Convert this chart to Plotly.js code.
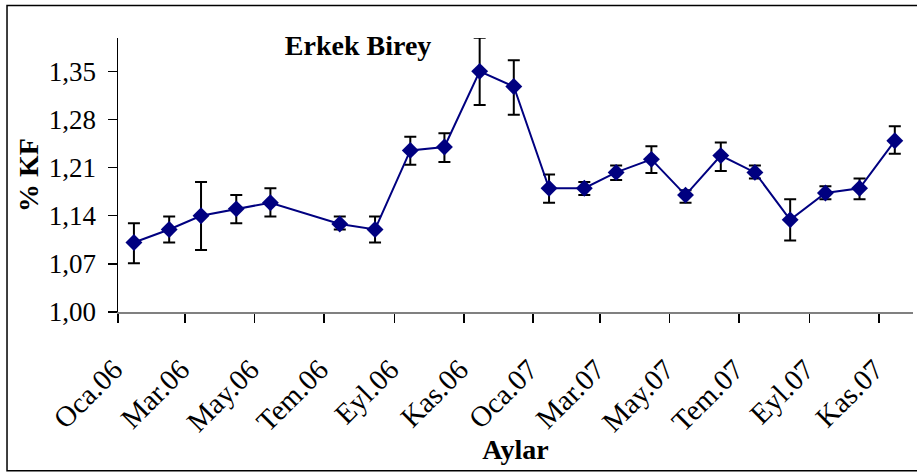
<!DOCTYPE html>
<html>
<head>
<meta charset="utf-8">
<script src="https://cdn.plot.ly/plotly-3.0.1.min.js"></script>
<style>html,body{margin:0;padding:0;background:#fff;}#chart{width:917px;height:472px;}</style>
</head>
<body>
<div id="chart"></div>
<script>
// Monthly sampling dates (June 2006 has no data)
const dates = ['2006-01-15','2006-02-15','2006-03-15','2006-04-15','2006-05-15',
  '2006-07-15','2006-08-15','2006-09-15','2006-10-15','2006-11-15','2006-12-15',
  '2007-01-15','2007-02-15','2007-03-15','2007-04-15','2007-05-15','2007-06-15',
  '2007-07-15','2007-08-15','2007-09-15','2007-10-15','2007-11-15'];
const kfValues = [1.101,1.120,1.140,1.150,1.159,1.128,1.120,1.235,1.240,1.350,1.328,
  1.180,1.180,1.203,1.222,1.170,1.2275,1.203,1.134,1.173,1.180,1.249];
const errPlus  = [0.028,0.019,0.049,0.020,0.021,0.011,0.019,0.020,0.020,0.049,0.038,
  0.020,0.009,0.010,0.019,0.007,0.019,0.010,0.030,0.010,0.014,0.021];
const errMinus = [0.030,0.019,0.050,0.021,0.020,0.008,0.019,0.021,0.022,0.049,0.041,
  0.021,0.010,0.011,0.020,0.011,0.0225,0.009,0.030,0.009,0.016,0.019];
const tickDates = ['2006-01-01','2006-03-01','2006-05-01','2006-07-01','2006-09-01','2006-11-01',
  '2007-01-01','2007-03-01','2007-05-01','2007-07-01','2007-09-01','2007-11-01'];
const tickLabels = ['Oca.06','Mar.06','May.06','Tem.06','Eyl.06','Kas.06',
  'Oca.07','Mar.07','May.07','Tem.07','Eyl.07','Kas.07'];
const yTicks = [1.00,1.07,1.14,1.21,1.28,1.35];

const serif = '"Liberation Serif", "Times New Roman", serif';

const trace = {
  x: dates, y: kfValues, type: 'scatter', mode: 'lines+markers',
  line: {color: '#000080', width: 2},
  marker: {symbol: 'diamond', size: 13, color: '#000080'},
  error_y: {type: 'data', symmetric: false, array: errPlus, arrayminus: errMinus,
    color: '#000000', thickness: 2, width: 6},
  hoverinfo: 'x+y'
};

const layout = {
  width: 917, height: 472,
  margin: {l: 118, r: 4, t: 38, b: 160},
  paper_bgcolor: '#ffffff', plot_bgcolor: '#ffffff',
  separators: ',.',
  showlegend: false,
  font: {family: serif, color: '#000', size: 26},
  title: {text: '<b>Erkek Birey</b>', font: {family: serif, size: 28, color: '#000'},
    xref: 'paper', x: 0.302, xanchor: 'center', yref: 'container', y: 0.905, yanchor: 'middle'},
  xaxis: {
    type: 'date', range: ['2006-01-01', '2007-12-01'],
    tickmode: 'array', tickvals: tickDates, ticktext: tickLabels,
    tickangle: -45, ticks: 'outside', ticklen: 9, tickwidth: 1.5, tickcolor: '#000',
    ticklabelstandoff: 18, ticklabelshift: -4,
    showline: true, linecolor: '#808080', linewidth: 2,
    showgrid: false, zeroline: false,
    tickfont: {family: serif, size: 29, color: '#000'},
    title: {text: '<b>Aylar</b>', font: {family: serif, size: 28, color: '#000'}, standoff: 0}
  },
  yaxis: {
    range: [1.0, 1.3985], tickmode: 'array', tickvals: yTicks, tickformat: '.2f',
    ticks: 'outside', ticklen: 9, tickwidth: 1.5, tickcolor: '#000',
    ticklabelstandoff: 6,
    showline: true, linecolor: '#000', linewidth: 1.5,
    showgrid: false, zeroline: false,
    tickfont: {family: serif, size: 27, color: '#000'},
    title: {text: '<b>% KF</b>', font: {family: serif, size: 28, color: '#000'}, standoff: 2}
  },
  shapes: [{type: 'rect', xref: 'paper', yref: 'paper',
    x0: -0.1396, x1: 1.06, y0: -0.5797, y1: 1.119,
    line: {color: '#000', width: 1.5}, fillcolor: 'rgba(0,0,0,0)', layer: 'below'}]
};

Plotly.newPlot('chart', [trace], layout, {displayModeBar: false, staticPlot: true});
</script>
</body>
</html>
